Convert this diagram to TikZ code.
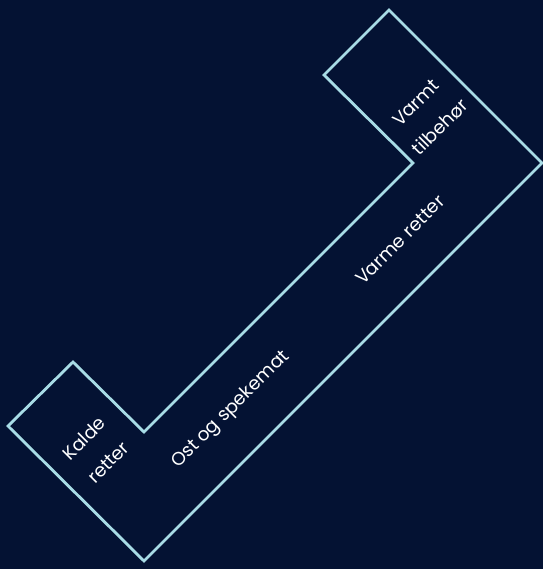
\documentclass[tikz,border=0pt]{standalone}
\usepackage{fontspec}
\setmainfont{Poppins}
\definecolor{bgnavy}{HTML}{041233}
\definecolor{edgeblue}{HTML}{A8DCE6}
\begin{document}
\begin{tikzpicture}[x=0.02cm,y=-0.02cm]
	\fill [bgnavy](0,0) rectangle (543,569);
	\useasboundingbox (0,0) rectangle (543,569);
	\draw [edgeblue, line width=1.6pt, line join=miter](389,10) -- (542,163) -- (144,561) -- (8,426) -- (73,362) -- (144,432) -- (413,163) -- (324,75) -- cycle;
	\node (kalde) [text=white, font=\fontsize{10.5}{19.5}\selectfont, align=center, rotate=45, inner sep=0pt] at (96,450) {Kalde\\retter};
	\node (ost) [text=white, font=\fontsize{10.5}{19.5}\selectfont, rotate=45, inner sep=0pt] at (231,410) {Ost og spekemat};
	\node (varme) [text=white, font=\fontsize{10.5}{19.5}\selectfont, rotate=45, inner sep=0pt] at (400,240) {Varme retter};
	\node (tilbehor) [text=white, font=\fontsize{10.5}{19.5}\selectfont, align=center, rotate=45, inner sep=0pt] at (428,115) {Varmt\\tilbehør};
\end{tikzpicture}
\end{document}
